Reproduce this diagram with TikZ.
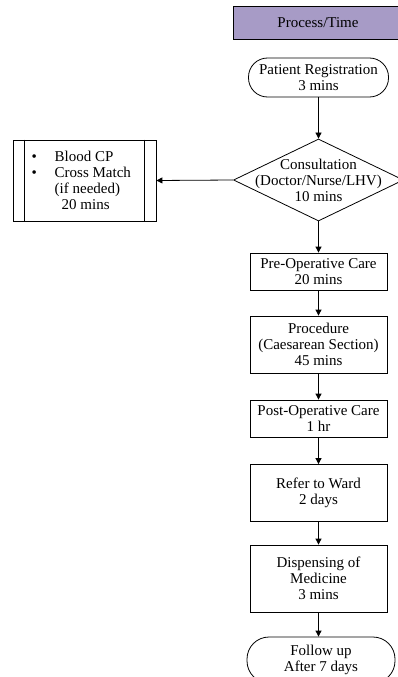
\documentclass[tikz,border=0pt]{standalone}
\usepackage{fontspec}
\setmainfont{Liberation Serif}
\usetikzlibrary{shapes.geometric,arrows.meta}

\definecolor{headpurple}{RGB}{167,155,198}

\begin{document}
\begin{tikzpicture}[x=1pt,y=-1pt,line width=0.8pt,
  every node/.style={font=\fontsize{15}{16}\selectfont},
  stepbox/.style={draw,rectangle,align=center,minimum width=137pt,inner sep=0pt},
  termbox/.style={draw,rectangle,rounded corners=19pt,align=center,inner sep=0pt},
  flow/.style={-{Triangle[length=6pt,width=6pt]}}]
  \useasboundingbox (0,0) rectangle (397,677);
  % header
  \node[draw,fill=headpurple,minimum width=170pt,minimum height=33pt] (head) at (318,22.5) {Process/Time};
  % main column
  \node[termbox,minimum width=140pt,minimum height=39pt] (reg) at (318.5,77.5) {Patient Registration\\3 mins};
  \node[draw,diamond,aspect=2.07,minimum width=170pt,minimum height=82pt,inner sep=0pt] (consult) at (318.5,180) {};
  \node[align=center] (consulttxt) at (consult) {Consultation\\(Doctor/Nurse/LHV)\\10 mins};
  \node[stepbox,minimum height=37pt] (preop) at (318.5,271.5) {Pre-Operative Care\\20 mins};
  \node[stepbox,minimum height=57pt] (proc) at (318.5,344.5) {Procedure\\(Caesarean Section)\\45 mins};
  \node[stepbox,minimum height=37pt] (postop) at (318.5,418.5) {Post-Operative Care\\1 hr};
  \node[stepbox,minimum height=57pt] (ward) at (318.5,493) {Refer to Ward\\2 days};
  \node[stepbox,minimum height=67pt] (disp) at (318.5,578.5) {Dispensing of\\Medicine\\3 mins};
  \node[termbox,rounded corners=22pt,minimum width=148pt,minimum height=46pt] (follow) at (321,660) {Follow up\\After 7 days};
  % side box
  \node[draw,rectangle,minimum width=143pt,minimum height=81pt,inner sep=0pt] (blood) at (84.5,180.5) {};
  \draw ([xshift=12pt]blood.north west) -- ([xshift=12pt]blood.south west);
  \draw ([xshift=-12pt]blood.north east) -- ([xshift=-12pt]blood.south east);
  \node[align=left,anchor=west] (bloodtxt) at (28,180.5)
    {\makebox[23pt][l]{\textbullet}Blood CP\\
     \makebox[23pt][l]{\textbullet}Cross Match\\
     \hspace*{23pt}(if needed)\\
     \hspace*{30pt}20 mins};
  % arrows
  \draw[flow] (reg) -- (consult);
  \draw[flow] (consult.west) -- (blood.east);
  \draw[flow] (consult.south) -- (preop.north);
  \draw[flow] (preop) -- (proc);
  \draw[flow] (proc) -- (postop);
  \draw[flow] (postop) -- (ward);
  \draw[flow] (ward) -- (disp);
  \draw[flow] (disp.south) -- (disp.south |- follow.north);
\end{tikzpicture}
\end{document}
